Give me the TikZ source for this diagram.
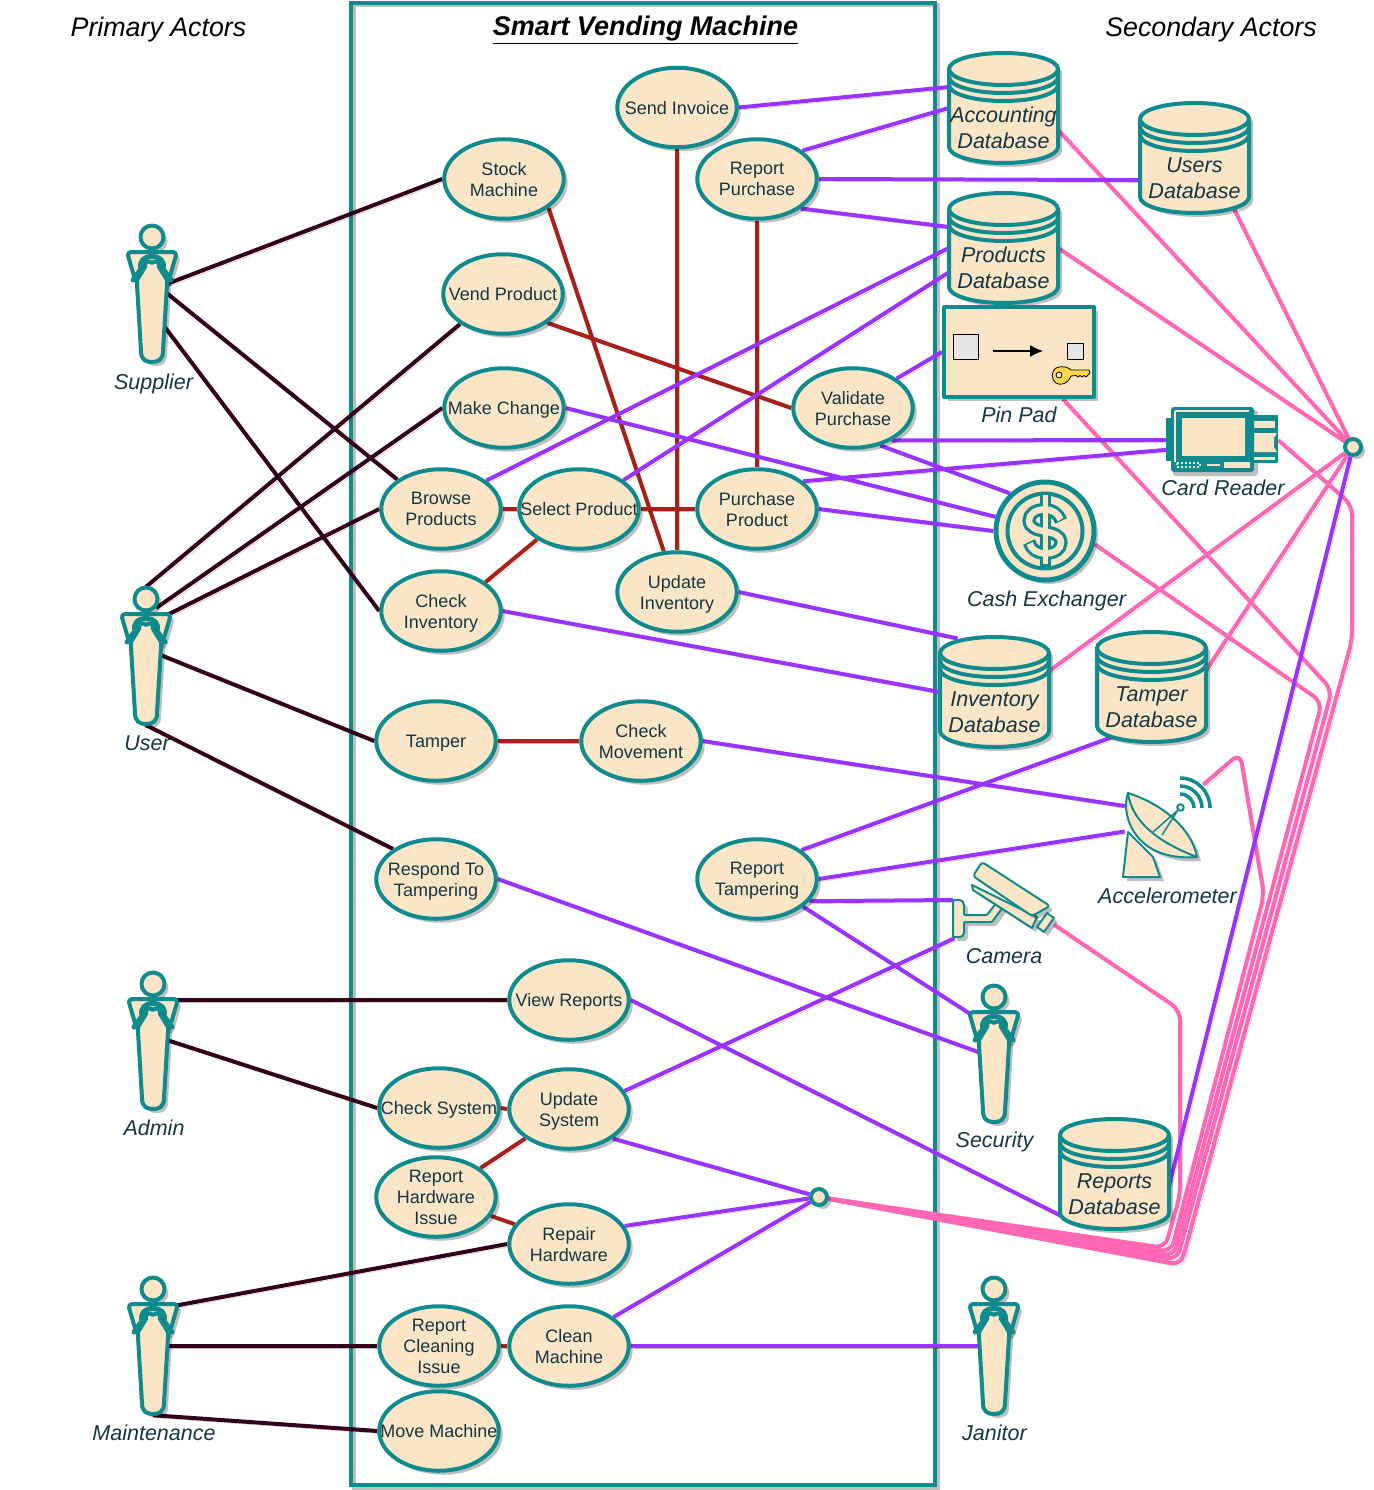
\documentclass[tikz,border=0pt]{standalone}
\usepackage{fontspec}
\setmainfont{Liberation Sans}
\usetikzlibrary{arrows.meta,shapes.geometric}
\definecolor{cStroke}{HTML}{0F8B8D}
\definecolor{cFill}{HTML}{FAE5C7}
\definecolor{cText}{HTML}{143642}
\definecolor{cDark}{HTML}{33001A}
\definecolor{cRed}{HTML}{A8201A}
\definecolor{cPurple}{HTML}{9933FF}
\definecolor{cPink}{HTML}{FF66B3}
\definecolor{cKey}{HTML}{FFD84D}
\pgfdeclarelayer{bg}
\pgfsetlayers{bg,main}
\tikzset{
  nodeShadow/.style={preaction={fill=black,fill opacity=.25,transform canvas={xshift=4pt,yshift=-4pt}}},
  lineShadow/.style={preaction={draw=black,draw opacity=.25,transform canvas={xshift=2.5pt,yshift=-2.5pt}}},
  fig/.style={draw=cStroke,fill=cFill,line width=4pt,line join=round},
  icon/.style={draw=cStroke,fill=cFill,line width=2pt,line join=round},
  usecase/.style={ellipse,fig,nodeShadow,minimum width=119.5pt,minimum height=79.5pt,inner sep=0pt},
  uctext/.style={text=cText,align=center,font=\fontsize{18}{21}\selectfont,inner sep=0pt,yshift=-2pt},
  box/.style={rectangle,inner sep=0pt},
  actorText/.style={text=cText,align=center,font=\fontsize{21.5}{26}\selectfont\itshape,inner sep=0pt},
  lnDark/.style={draw=cDark,line width=4pt,lineShadow},
  lnRed/.style={draw=cRed,line width=4pt,lineShadow},
  lnPurple/.style={draw=cPurple,line width=4pt,lineShadow},
  lnPink/.style={draw=cPink,line width=4pt,lineShadow,rounded corners=10pt,line join=round},
}
\newcommand{\uc}[4]{\node[usecase,label={[uctext]center:\vphantom{Apg}#4\vphantom{Apg}}] (#1) at (#2,#3) {};}
\newcommand{\dbase}[4]{%
  \begin{scope}[shift={(#2,#3)}]
    \draw[fig,nodeShadow] (0,16) arc[start angle=180,end angle=360,x radius=54.5,y radius=16] -- (109,94)
       arc[start angle=0,end angle=180,x radius=54.5,y radius=16] -- cycle;
    \draw[draw=cStroke,line width=4pt] (0,16) arc[start angle=180,end angle=0,x radius=54.5,y radius=16];
    \draw[draw=cStroke,line width=4pt] (0,24) arc[start angle=180,end angle=0,x radius=54.5,y radius=16];
    \draw[draw=cStroke,line width=4pt] (0,32) arc[start angle=180,end angle=0,x radius=54.5,y radius=16];
    \node[box,minimum width=109pt,minimum height=110pt] (#1) at (54.5,55) {};
    \node[actorText] (#1-text) at (54.5,75) {#4};
  \end{scope}}
\newcommand{\actor}[6]{%
  \begin{scope}[shift={(#2,#3)}]
    \draw[fig,nodeShadow] (0,12) circle[radius=11.5];
    \draw[fig,nodeShadow,rounded corners=4pt] (-25,27) -- (25,27) -- (16,58) -- (-16,58) -- cycle;
    \draw[draw=cStroke,line width=5pt,line cap=round,line join=round] (-19,55) -- (-11,44) .. controls (-13,36) and (-8,31.5) .. (0,31.5) .. controls (8,31.5) and (13,36) .. (11,44) -- (19,55);
    \draw[fig,nodeShadow] (0,38) .. controls (-3,35) and (-8,36) .. (-7,42) -- (-15,55) -- (-15,60) -- (-11,126)
       .. controls (-11,135) and (-6,137) .. (0,137) .. controls (6,137) and (11,135) .. (11,126)
       -- (15,60) -- (15,55) -- (7,42) .. controls (8,36) and (3,35) .. (0,38) -- cycle;
    \node[box,minimum width=20pt,minimum height=138pt] (#1) at (0,69) {};
  \end{scope}
  \node[actorText] (#1-text) at (#5,#6) {#4};}
\begin{document}
\begin{tikzpicture}[x=1pt,y=-1pt]
\useasboundingbox (0,0) rectangle (1373,1490);
% titles
\node[inner sep=0pt,font=\fontsize{26.8}{30}\selectfont\itshape] (primary) at (158.5,30) {Primary Actors};
\node[inner sep=0pt,font=\fontsize{26.8}{30}\selectfont\itshape] (secondary) at (1211,30) {Secondary Actors};
\node[inner sep=0pt,font=\fontsize{27}{30}\selectfont\itshape\bfseries] (title) at (645.5,30) {\underline{Smart Vending Machine}};
% use cases
\uc{invoice}{677}{107.5}{Send Invoice}
\uc{stock}{504}{179}{Stock\\Machine}
\uc{rpurchase}{757}{179}{Report\\Purchase}
\uc{vend}{503}{294}{Vend Product}
\uc{change}{504}{408}{Make Change}
\uc{validate}{853}{408}{Validate\\Purchase}
\uc{browse}{441}{509}{Browse\\Products}
\uc{select}{579}{509}{Select Product}
\uc{purchase}{757}{509}{Purchase\\Product}
\uc{checkinv}{441}{611}{Check\\Inventory}
\uc{updinv}{677}{592}{Update\\Inventory}
\uc{tamper}{436}{741}{Tamper}
\uc{movement}{641}{741}{Check\\Movement}
\uc{respond}{436}{879}{Respond To\\Tampering}
\uc{rtamper}{757}{879}{Report\\Tampering}
\uc{view}{569}{1000}{View Reports}
\uc{checksys}{439}{1108}{Check System}
\uc{updsys}{569}{1109}{Update\\System}
\uc{rhw}{436}{1197}{Report\\Hardware\\Issue}
\uc{repair}{569}{1244}{Repair\\Hardware}
\uc{rclean}{439}{1346}{Report\\Cleaning\\Issue}
\uc{clean}{569}{1346}{Clean\\Machine}
\uc{move}{439}{1431}{Move Machine}
% databases
\dbase{acc}{949}{53}{Accounting\\Database}
\dbase{users}{1140}{103}{Users\\Database}
\dbase{prod}{949}{193}{Products\\Database}
\dbase{inv}{940}{637}{Inventory\\Database}
\dbase{tdb}{1097}{632}{Tamper\\Database}
\dbase{rep}{1060}{1119}{Reports\\Database}
% actors
\actor{supplier}{152}{225}{Supplier}{153.5}{384}
\actor{user}{146}{587}{User}{147}{743}
\actor{admin}{153}{972}{Admin}{154}{1128}
\actor{maint}{153}{1277}{Maintenance}{154}{1433}
\actor{security}{994}{985}{Security}{994.5}{1142}
\actor{janitor}{994}{1277}{Janitor}{994.5}{1433}
% pin pad
\node[rectangle,fig,nodeShadow,minimum width=150pt,minimum height=90pt] (pin) at (1019,352) {};
\node[rectangle,draw=black,fill=black!10,line width=1pt,minimum size=25pt,inner sep=0pt] (pinA) at (966,346.5) {};
\node[rectangle,draw=black,fill=black!10,line width=1pt,minimum size=16pt,inner sep=0pt] (pinB) at (1075.5,351) {};
\draw[black,line width=1.2pt,-{Latex[length=13pt,width=12pt]},shorten <=14pt,shorten >=24pt] (pinA.east|-pinB.west) -- (pinB.west);
\draw[draw=black,fill=cKey,line width=.8pt,line join=round] (1056,368) .. controls (1064,365) and (1069,368) .. (1071,370) -- (1089,370) -- (1090,373) -- (1086,377) -- (1084,375.5) -- (1082,377) -- (1080,375.5) -- (1078,377) -- (1076,375.5) -- (1071,376) .. controls (1068,384) and (1060,386) .. (1056,383) .. controls (1051,380) and (1051,371) .. (1056,368) -- cycle;
\draw[draw=black,fill=cFill,line width=.8pt] (1059,375) circle[radius=3];
\node[actorText] (pin-text) at (1019,415) {Pin Pad};
% card reader
\node[box,minimum width=110pt,minimum height=64pt] (card) at (1223,440) {};
\fill[black,opacity=.25,rounded corners=3pt,transform canvas={xshift=3pt,yshift=-3pt}] (1170,407) rectangle (1255,473);
\fill[cStroke] (1166,418) rectangle (1175,461);
\fill[cStroke] (1250,415) rectangle (1278,463);
\fill[cFill] (1254,421) rectangle (1275,428);
\fill[cFill] (1254,433) -- (1277,433) -- (1274,438) -- (1274,447) -- (1277,452) -- (1254,452) -- cycle;
\fill[cFill] (1254,457) rectangle (1275,460);
\fill[cStroke,rounded corners=3pt] (1171,407) rectangle (1254,472);
\draw[cFill,line width=2pt] (1175,411) -- (1175,462);
\draw[cFill,line width=2pt] (1175,411) -- (1249,411);
\draw[fill=cFill,draw=cStroke,line width=4pt] (1180,416) rectangle (1247,458);
\fill[cFill] (1224,462) rectangle (1250,468);
\draw[cFill,line width=1.2pt] (1207,465) -- (1220,465);
\draw[cFill,line width=1.2pt,dash pattern=on 2pt off 2pt] (1177,463) -- (1200,463) -- (1200,467) -- (1177,467) -- cycle;
\node[actorText] (card-text) at (1223,488) {Card Reader};
% cash exchanger
\node[circle,fig,line width=5pt,nodeShadow,minimum size=98pt,inner sep=0pt] (cash) at (1045,531) {};
\draw[draw=cStroke,line width=4pt] (cash.center) circle[radius=37.5];
\draw[cStroke,line width=11pt] (1045,492) -- (1045,567);
\draw[cStroke,line width=13pt,line cap=butt] (1061,521) .. controls (1058,513) and (1052,509.5) .. (1045,509.5) .. controls (1035,509.5) and (1029,514) .. (1029,520.5) .. controls (1029,528) and (1037,530) .. (1045,531.5) .. controls (1053,533) and (1061,535) .. (1061,542.5) .. controls (1061,549) and (1055,553.5) .. (1045,553.5) .. controls (1037,553.5) and (1031,549) .. (1029,542);
\draw[cFill,line width=6.5pt,line cap=butt] (1060.5,519.5) .. controls (1058,513) and (1052,509.5) .. (1045,509.5) .. controls (1035,509.5) and (1029,514) .. (1029,520.5) .. controls (1029,528) and (1037,530) .. (1045,531.5) .. controls (1053,533) and (1061,535) .. (1061,542.5) .. controls (1061,549) and (1055,553.5) .. (1045,553.5) .. controls (1037,553.5) and (1031,549) .. (1029.5,543.5);
\draw[cFill,line width=5pt] (1045,495) -- (1045,564);
\node[actorText] (cash-text) at (1046.5,601) {Cash Exchanger};
% accelerometer
\node[box,minimum width=78pt,minimum height=93pt] (accel) at (1164,831.5) {};
\draw[icon,nodeShadow] (1128,832) -- (1123,877) -- (1160,877) -- (1153,857) -- cycle;
\draw[icon,nodeShadow] (1128,793) .. controls (1120,815) and (1135,862) .. (1197,857) .. controls (1192,830) and (1165,805) .. (1128,793) -- cycle;
\draw[draw=cStroke,line width=2pt] (1128,793) .. controls (1132,825) and (1165,845) .. (1197,857);
\draw[draw=cStroke,line width=1.5pt] (1153,832) -- (1178,810) -- (1162,835);
\draw[icon] (1180.5,807.5) circle[radius=3.3];
\draw[cStroke,line width=3.5pt,shift={(1180,808)}] (0,-30) arc[start angle=-90,end angle=0,radius=30];
\draw[cStroke,line width=3.5pt,shift={(1180,808)}] (0,-22) arc[start angle=-90,end angle=0,radius=22];
\draw[cStroke,line width=3.5pt,shift={(1180,808)}] (0,-14) arc[start angle=-90,end angle=0,radius=14];
\node[actorText] (accel-text) at (1167.5,896) {Accelerometer};
% camera
\node[box,minimum width=101pt,minimum height=76pt] (camera) at (1003.5,900) {};
\draw[icon,nodeShadow,rounded corners=1pt] (953,900) -- (959,900) .. controls (962,900) and (964,903) .. (964,906) -- (964,915) -- (987,915) -- (997,902) -- (1003,907) -- (992,922) -- (964,922) -- (964,932) .. controls (964,935) and (962,937) .. (959,937) -- (953,937) -- cycle;
\draw[icon,nodeShadow] (972,885) -- (1037,917) -- (1032,928) -- (973,890) -- cycle;
\draw[icon,nodeShadow,rounded corners=3pt] (973,876) -- (982,862) -- (1050,906) -- (1032,916) -- cycle;
\draw[icon,nodeShadow] (1037,927) -- (1047,913) -- (1054,918) -- (1044,932) -- cycle;
\node[actorText] (camera-text) at (1004,956) {Camera};
% junctions
\node[circle,fig,minimum size=16pt,inner sep=0pt,nodeShadow] (n1) at (1353,447) {};
\node[circle,fig,minimum size=16pt,inner sep=0pt,nodeShadow] (n2) at (819,1197) {};

\begin{pgfonlayer}{bg}
\draw[draw=black,draw opacity=.25,line width=4pt,transform canvas={xshift=2.5pt,yshift=-2.5pt}] (351,3) rectangle (935,1485);
\node[rectangle,draw=cStroke,line width=4pt,minimum width=584pt,minimum height=1482pt,inner sep=0pt] (system) at (643,744) {};
% actors to use cases
\draw[lnDark] (supplier.39) -- (stock.west);
\draw[lnDark] (supplier.24) -- (browse.146);
\draw[lnDark] (supplier.-71) -- (checkinv.west);
\draw[lnDark] (user.north) -- (vend.215);
\draw[lnDark] (user.78) -- (change.west);
\draw[lnDark] (user.74) -- (browse.west);
\draw[lnDark] (user.15) -- (tamper.west);
\draw[lnDark] (user.south) -- (respond.145);
\draw[lnDark] (admin.76) -- (view.west);
\draw[lnDark] (admin.12) -- (checksys.west);
\draw[lnDark] (maint.75) -- (repair.west);
\draw[lnDark] (maint.east) -- (rclean.west);
\draw[lnDark] (maint.south) -- (move.west);
% includes
\draw[lnRed] (stock.-33) -- (updinv.108);
\draw[lnRed] (invoice.south) -- (updinv.north);
\draw[lnRed] (rpurchase.south) -- (purchase.north);
\draw[lnRed] (vend.-33) -- (validate.west);
\draw[lnRed] (browse.east) -- (select.west);
\draw[lnRed] (select.east) -- (purchase.west);
\draw[lnRed] (checkinv.33) -- (select.216);
\draw[lnRed] (tamper.east) -- (movement.west);
\draw[lnRed] (checksys.east) -- (updsys.west);
\draw[lnRed] (rhw.33) -- (updsys.214);
\draw[lnRed] (rhw.-19) -- (repair.160);
\draw[lnRed] (rclean.east) -- (clean.west);
% pink
\draw[lnPink] (acc.-22) -- (n1);
\draw[lnPink,shorten <=-6pt] (users.-53) -- (n1);
\draw[lnPink] (prod.east) -- (n1);
\draw[lnPink] (inv.21) -- (n1);
\draw[lnPink] (tdb.17) -- (n1);
\draw[lnPink] (camera.-26) -- (1180,1010) -- (1180,1195) -- (1165,1248) -- (n2);
\draw[lnPink] (accel.north east) -- (1240,753) -- (1264,895) -- (1171,1252) -- (n2);
\draw[lnPink] (cash.-15) -- (1322,702) -- (1174,1256) -- (n2);
\draw[lnPink] (pin.-47) -- (1332,690) -- (1177,1260) -- (n2);
\draw[lnPink] (card.east) -- (1352,505) -- (1352,640) -- (1181,1265) -- (n2);
% purple
\draw[lnPurple] (invoice.east) -- (acc.159);
\draw[lnPurple] (rpurchase.32) -- (acc.west);
\draw[lnPurple] (rpurchase.east) -- (users.202);
\draw[lnPurple] (rpurchase.-34) -- (prod.159);
\draw[lnPurple] (browse.32) -- (prod.west);
\draw[lnPurple] (select.33) -- (prod.204);
\draw[lnPurple] (validate.34) -- (pin.west);
\draw[lnPurple] (validate.-40) -- (card.west);
\draw[lnPurple] (validate.-54) -- (cash.133);
\draw[lnPurple] (change.east) -- (cash.164);
\draw[lnPurple] (purchase.31) -- (card.190);
\draw[lnPurple] (purchase.east) -- (cash.west);
\draw[lnPurple,shorten >=-8pt] (updinv.east) -- (inv.129);
\draw[lnPurple] (checkinv.east) -- (inv.west);
\draw[lnPurple] (movement.east) -- (accel.147);
\draw[lnPurple,shorten >=-16pt] (rtamper.33) -- (tdb.226);
\draw[lnPurple] (rtamper.east) -- (accel.west);
\draw[lnPurple] (rtamper.-23) -- (camera.west);
\draw[lnPurple] (rtamper.-31) -- (security.108);
\draw[lnPurple] (respond.east) -- (security.west);
\draw[lnPurple] (updsys.18) -- (camera.218);
\draw[lnPurple] (view.east) -- (rep.217);
\draw[lnPurple] (updsys.-34) -- (n2);
\draw[lnPurple] (repair.18) -- (n2);
\draw[lnPurple] (clean.33) -- (n2);
\draw[lnPurple] (clean.east) -- (janitor.west);
\draw[lnPurple] (rep.-12) -- (n1);
\end{pgfonlayer}
\end{tikzpicture}
\end{document}
